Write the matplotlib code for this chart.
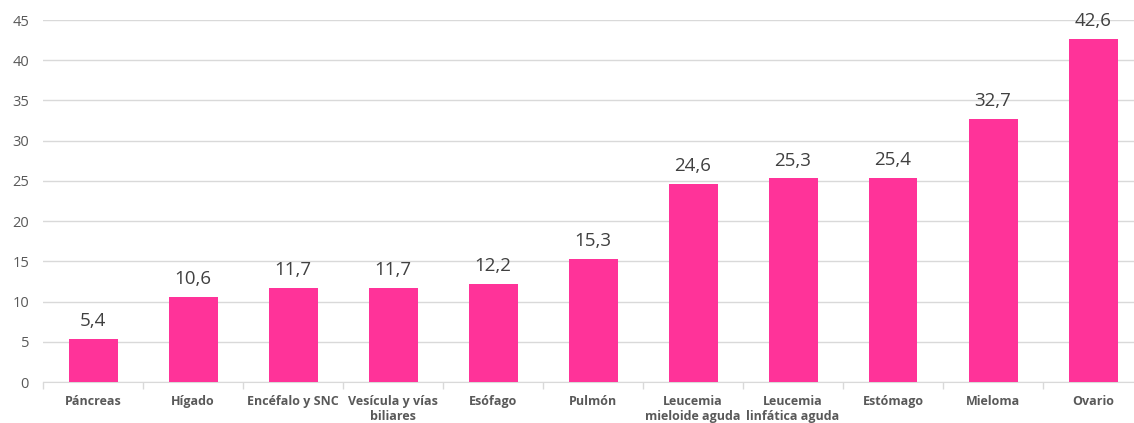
import matplotlib
matplotlib.use("Agg")
import matplotlib.pyplot as plt

categories = ["Páncreas", "Hígado", "Encéfalo y SNC", "Vesícula y vías\nbiliares", "Esófago",
              "Pulmón", "Leucemia\nmieloide aguda", "Leucemia\nlinfática aguda", "Estómago",
              "Mieloma", "Ovario"]
values = [5.4, 10.6, 11.7, 11.7, 12.2, 15.3, 24.6, 25.3, 25.4, 32.7, 42.6]
yticks = [0, 5, 10, 15, 20, 25, 30, 35, 40, 45]

W, H = 1134, 423
fig = plt.figure(figsize=(W / 100, H / 100), dpi=100)
left, right, top, bottom = 43, 1143, 20, 382
ax = fig.add_axes([left / W, 1 - bottom / H, (right - left) / W, (bottom - top) / H])

x = list(range(len(categories)))
ax.bar(x, values, width=0.49, color="#FF3399", zorder=3)
for xi, v in zip(x, values):
    ax.text(xi, v + 1.1, f"{v:.1f}".replace(".", ","), ha="center", va="bottom",
            fontsize=13.5, color="#404040", family="Open Sans")

ax.set_xlim(-0.5, len(categories) - 0.5)
ax.set_ylim(0, 45)
ax.set_yticks(yticks)
ax.set_yticklabels([str(t) for t in yticks], family="Open Sans", fontsize=10.5, color="#595959")
ax.yaxis.grid(True, color="#D9D9D9", linewidth=1, zorder=0)
ax.tick_params(axis="y", length=0, pad=10)

ax.set_xticks(x)
ax.set_xticklabels(categories, family="Open Sans", fontsize=9, fontweight="bold",
                   color="#595959", linespacing=1.2)
ax.tick_params(axis="x", which="major", length=0, pad=9)
ax.set_xticks([-0.5] + [i + 0.5 for i in x[:-1]], minor=True)
ax.tick_params(axis="x", which="minor", length=5, color="#D9D9D9", width=1)

for s in ["top", "right", "left"]:
    ax.spines[s].set_visible(False)
ax.spines["bottom"].set_color("#D9D9D9")

fig.savefig("out.png", dpi=100)
